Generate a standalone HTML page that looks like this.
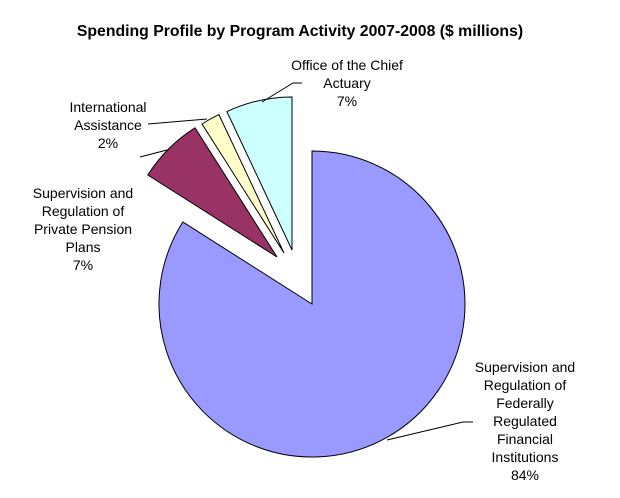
<!DOCTYPE html>
<html><head><style>
body{margin:0;background:#fff}
svg{display:block}
text{font-family:"Liberation Sans",Arial,sans-serif;font-size:14px;fill:#000}
</style></head><body>
<svg width="620" height="498" viewBox="0 0 620 498">
<rect width="620" height="498" fill="#fff"/>
<text x="300" y="36" text-anchor="middle" style="font-weight:bold;font-size:15.8px">Spending Profile by Program Activity 2007-2008 ($ millions)</text>
<g stroke="#000" stroke-width="1">
<path d="M312,304 L312,151 A153,153 0 1 1 182.8,222 Z" fill="#9999FF"/>
<path d="M277,257 L147.8,175 A153,153 0 0 1 195,127.8 Z" fill="#993366"/>
<path d="M284,253 L202,124 A153,153 0 0 1 218.9,114.6 Z" fill="#FFFFCC"/>
<path d="M292,250 L226.9,111.6 A153,153 0 0 1 292,97 Z" fill="#CCFFFF"/>
<polyline fill="none" points="262,102 293,83 302,83"/>
<polyline fill="none" points="148,124 207,119"/>
<polyline fill="none" points="140,157 167,150"/>
<polyline fill="none" points="387,440 463,422 473,422"/>
</g>
<g text-anchor="middle">
<text x="347" y="70">Office of the Chief</text>
<text x="347" y="88">Actuary</text>
<text x="347" y="106">7%</text>
<text x="108" y="112">International</text>
<text x="108" y="130">Assistance</text>
<text x="108" y="148">2%</text>
<text x="83" y="198">Supervision and</text>
<text x="83" y="216">Regulation of</text>
<text x="83" y="234">Private Pension</text>
<text x="83" y="252">Plans</text>
<text x="83" y="270">7%</text>
<text x="525" y="372">Supervision and</text>
<text x="525" y="390">Regulation of</text>
<text x="525" y="408">Federally</text>
<text x="525" y="426">Regulated</text>
<text x="525" y="444">Financial</text>
<text x="525" y="462">Institutions</text>
<text x="525" y="480">84%</text>
</g>
</svg>
</body></html>
